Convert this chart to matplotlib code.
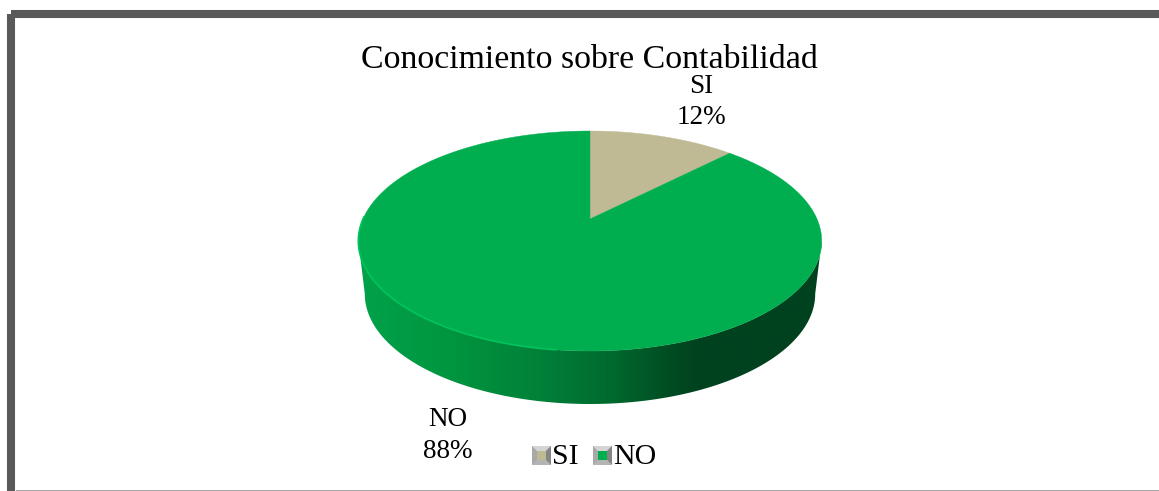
import numpy as np
import matplotlib
matplotlib.use("Agg")
import matplotlib.pyplot as plt
from matplotlib.patches import Polygon, Rectangle
from matplotlib.colors import LinearSegmentedColormap

plt.rcParams['font.family'] = ['Liberation Serif', 'DejaVu Serif']

TITLE = "Conocimiento sobre Contabilidad"
categories = ["SI", "NO"]
values = [12.4, 87.6]
colors = ["#BFBA94", "#00AE50"]

W, H = 1159, 491
fig = plt.figure(figsize=(W / 100, H / 100), dpi=100)
ax = fig.add_axes([0, 0, 1, 1])
ax.set_xlim(0, W)
ax.set_ylim(H, 0)
ax.axis("off")

# frame
ax.add_patch(Rectangle((11, 14), W + 20, H + 20, fill=False, ec="#595959", lw=5.8,
                       joinstyle="round", zorder=1))
ax.add_patch(Rectangle((16, 490), W, 2, fc="#A6A6A6", ec="none", zorder=2))

# perspective disc
CX, CY, SX, SY, K = 590, 219, 227, 105.6, 0.2
def project(theta, cx=CX, cy=CY, sx=SX, sy=SY):
    X, Y = np.sin(theta), np.cos(theta)
    w = 1 + K * Y
    return cx + sx * X / w, cy - sy * Y / w

# side wall
hull = np.concatenate([
    np.column_stack(project(np.linspace(np.pi / 2 + 0.2, 3 * np.pi / 2 - 0.2, 300))),
    np.column_stack(project(np.linspace(3 * np.pi / 2 - 0.2, np.pi / 2 + 0.2, 300), CX, 272, SX * 0.972, SY)),
])
cmap = LinearSegmentedColormap.from_list("side", [
    (0.00, "#00A24A"), (0.20, "#00953F"), (0.40, "#007F38"),
    (0.55, "#00692D"), (0.68, "#004A22"), (0.74, "#00421F"), (1.00, "#00421F")])
im = ax.imshow(np.linspace(0, 1, 460)[None, :], cmap=cmap, extent=(360, 822, 410, 230),
               aspect="auto", zorder=3)
clip = Polygon(hull, closed=True, transform=ax.transData, fc="none", ec="none")
ax.add_patch(clip)
im.set_clip_path(clip)
ax.set_xlim(0, W)
ax.set_ylim(H, 0)

# top face
fractions = np.cumsum([0] + values) / sum(values)
for i, c in enumerate(colors):
    th = np.linspace(2 * np.pi * fractions[i], 2 * np.pi * fractions[i + 1], 400)
    px, py = project(th)
    ax.add_patch(Polygon(np.column_stack([np.r_[CX, px], np.r_[CY, py]]), closed=True,
                         fc=c, ec=c, lw=0.3, zorder=4))
# lit rim on the lower left
ax.plot(*project(np.linspace(np.pi + 0.12, 3 * np.pi / 2 + 0.02, 200)), color="#00C45C", lw=1.2, zorder=5)

# labels
ax.text(589, 60, TITLE, ha="center", va="center", fontsize=24.4, color="black", zorder=6)
label_pos = [(701, 102), (448, 435.5)]
for (x, y), cat, v in zip(label_pos, categories, values):
    ax.text(x, y, f"{cat}\n{v:.0f}%", ha="center", va="center", fontsize=19.5,
            linespacing=1.36, color="black", zorder=6)

# legend
def marker(x0, y0, c, s=19):
    m = 5
    x1, y1 = x0 + s, y0 + s
    ax.add_patch(Rectangle((x0, y0), s, s, fc="#A8A8A8", ec="none", zorder=6))
    ax.add_patch(Polygon([(x0, y0), (x1, y0), (x1 - m, y0 + m), (x0 + m, y0 + m)], fc="#D4D4D4", ec="none", zorder=6))
    ax.add_patch(Polygon([(x1, y0), (x1, y1), (x1 - m, y1 - m), (x1 - m, y0 + m)], fc="#858585", ec="none", zorder=6))
    ax.add_patch(Polygon([(x0, y1), (x1, y1), (x1 - m, y1 - m), (x0 + m, y1 - m)], fc="#B4B4B4", ec="none", zorder=6))
    ax.add_patch(Rectangle((x0 + m, y0 + m), s - 2 * m, s - 2 * m, fc=c, ec="none", zorder=7))
for x, mx, cat, c in zip([552, 613], [532, 593], categories, colors):
    marker(mx, 446, c)
    ax.text(x, 457, cat, ha="left", va="center", fontsize=21.5, color="black", zorder=6)

fig.savefig("out.png", dpi=100, facecolor="white")
